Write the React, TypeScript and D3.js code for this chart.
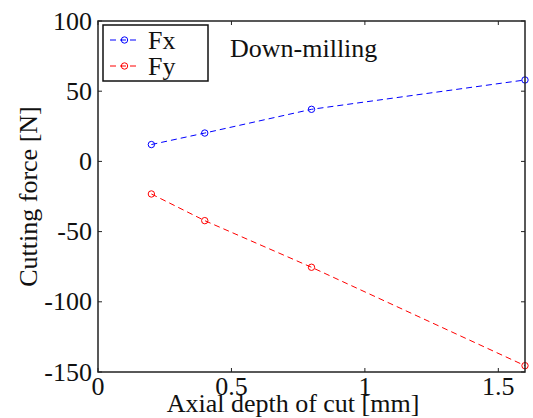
import React, { useEffect, useRef } from "react";
import * as d3 from "d3";

const depths = [0.2, 0.4, 0.8, 1.6];
const fxValues = [12, 20.2, 37.1, 58];
const fyValues = [-23.2, -42.2, -75.4, -145.5];
const xTicks = [0, 0.5, 1, 1.5];
const yTicks = [-150, -100, -50, 0, 50, 100];
const seriesNames = ["Fx", "Fy"];
const seriesColors = ["#0000ff", "#ff0000"];

const W = 533;
const H = 418;
const FS = 26;
const FONT = "Liberation Serif, Tinos, FreeSerif, serif";

export default function App() {
  const ref = useRef<SVGSVGElement>(null);

  useEffect(() => {
    document.body.style.margin = "0";
    const svg = d3.select(ref.current);
    svg.selectAll("*").remove();
    const left = 98, right = 525, top = 21, bottom = 372;
    const x = d3.scaleLinear().domain([0, 1.6]).range([left, right]);
    const y = d3.scaleLinear().domain([-150, 100]).range([bottom, top]);
    const line = d3
      .line<[number, number]>()
      .x((d) => x(d[0]))
      .y((d) => y(d[1]));
    const tickLen = 4;

    const addText = (sel: any, txt: string) =>
      sel
        .append("text")
        .text(txt)
        .attr("font-family", FONT)
        .attr("font-size", FS)
        .attr("fill", "#111");

    [fxValues, fyValues].forEach((vals, si) => {
      const pts = depths.map((d, i) => [d, vals[i]] as [number, number]);
      svg
        .append("path")
        .attr("d", line(pts) || "")
        .attr("fill", "none")
        .attr("stroke", seriesColors[si])
        .attr("stroke-width", 1)
        .attr("stroke-dasharray", "6,4");
      svg
        .selectAll(null)
        .data(pts)
        .enter()
        .append("circle")
        .attr("cx", (p) => x(p[0]))
        .attr("cy", (p) => y(p[1]))
        .attr("r", 3.2)
        .attr("fill", "none")
        .attr("stroke", seriesColors[si])
        .attr("stroke-width", 1);
    });

    svg
      .append("rect")
      .attr("x", left)
      .attr("y", top)
      .attr("width", right - left)
      .attr("height", bottom - top)
      .attr("fill", "none")
      .attr("stroke", "#222")
      .attr("stroke-width", 1.5);

    xTicks.forEach((t) => {
      svg.append("line").attr("x1", x(t)).attr("x2", x(t)).attr("y1", bottom).attr("y2", bottom - tickLen).attr("stroke", "#222");
      svg.append("line").attr("x1", x(t)).attr("x2", x(t)).attr("y1", top).attr("y2", top + tickLen).attr("stroke", "#222");
      addText(svg, String(t)).attr("x", x(t)).attr("y", 395).attr("text-anchor", "middle");
    });
    yTicks.forEach((t) => {
      svg.append("line").attr("x1", left).attr("x2", left + tickLen).attr("y1", y(t)).attr("y2", y(t)).attr("stroke", "#222");
      svg.append("line").attr("x1", right).attr("x2", right - tickLen).attr("y1", y(t)).attr("y2", y(t)).attr("stroke", "#222");
      addText(svg, String(t)).attr("x", 92).attr("y", y(t) + 8.5).attr("text-anchor", "end");
    });

    addText(svg, "Axial depth of cut [mm]").attr("x", 293).attr("y", 412).attr("text-anchor", "middle");
    addText(svg, "Cutting force [N]")
      .attr("transform", `translate(37,${(top + bottom) / 2}) rotate(-90)`)
      .attr("text-anchor", "middle");
    addText(svg, "Down-milling").attr("x", 230).attr("y", 57);

    svg
      .append("rect")
      .attr("x", 103)
      .attr("y", 25)
      .attr("width", 105)
      .attr("height", 56)
      .attr("fill", "#fff")
      .attr("stroke", "#111")
      .attr("stroke-width", 1.5);
    seriesNames.forEach((name, i) => {
      const ly = 40 + i * 26;
      svg.append("line").attr("x1", 110).attr("x2", 139).attr("y1", ly).attr("y2", ly)
        .attr("stroke", seriesColors[i]).attr("stroke-width", 1).attr("stroke-dasharray", "6,4");
      svg.append("circle").attr("cx", 124.5).attr("cy", ly).attr("r", 3.2)
        .attr("fill", "none").attr("stroke", seriesColors[i]).attr("stroke-width", 1);
      addText(svg, name).attr("x", 148).attr("y", ly + 9);
    });
  }, []);

  return (
    <svg
      ref={ref}
      width={W}
      height={H}
      style={{ position: "absolute", left: 0, top: 0, fontFamily: "Liberation Serif" }}
    />
  );
}
